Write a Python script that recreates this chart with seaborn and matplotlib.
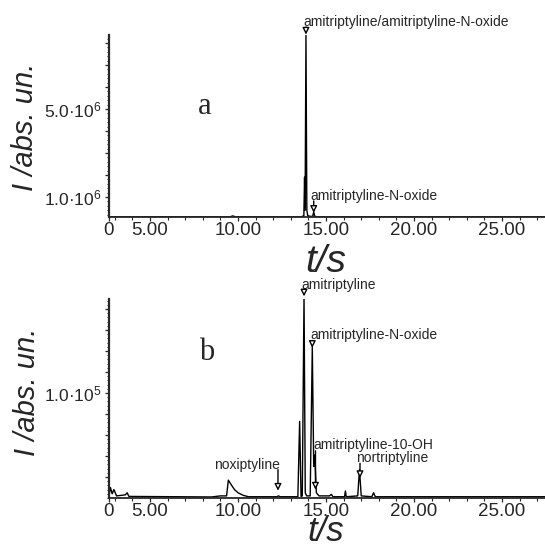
import matplotlib
matplotlib.use("Agg")
import matplotlib.pyplot as plt
from matplotlib.ticker import FixedLocator, FixedFormatter, MultipleLocator
import numpy as np
import pandas as pd
import seaborn as sns

# ---------------- data ----------------
# panel a: chromatogram polyline (t in s, intensity in abs. units)
t_a = [2.67, 4.0, 9.55, 9.70, 9.85, 13.60, 13.74, 13.78, 13.81, 13.86, 13.91, 13.96,
       14.10, 14.24, 14.30, 14.36, 14.50, 27.44]
I_a = [0.10e6, 0.10e6, 0.10e6, 0.14e6, 0.10e6, 0.10e6, 0.15e6, 1.90e6, 0.40e6, 8.35e6, 0.40e6, 0.15e6,
       0.12e6, 0.12e6, 0.32e6, 0.12e6, 0.10e6, 0.10e6]

# panel b
t_b = [2.67, 2.75, 2.85, 2.95, 3.10, 3.60, 3.70, 3.80, 8.50, 9.00, 9.35, 9.45, 9.60, 9.80, 10.00,
       10.30, 10.60, 12.20, 12.30, 12.40, 13.40, 13.50, 13.58, 13.65, 13.75, 13.82, 13.90,
       14.10, 14.22, 14.30, 14.36, 14.45, 14.60, 15.20, 15.30, 15.40, 16.05, 16.10, 16.15,
       16.80, 16.90, 17.00, 17.60, 17.70, 17.80, 27.44]
I_b = [0.020e5, 0.100e5, 0.040e5, 0.080e5, 0.020e5, 0.030e5, 0.050e5, 0.015e5, 0.010e5, 0.020e5,
       0.020e5, 0.170e5, 0.130e5, 0.080e5, 0.050e5, 0.025e5, 0.012e5, 0.012e5, 0.020e5, 0.012e5,
       0.012e5, 0.730e5, 0.015e5, 0.020e5, 1.930e5, 0.050e5, 0.020e5, 0.020e5, 1.440e5, 0.300e5,
       0.410e5, 0.050e5, 0.020e5, 0.020e5, 0.035e5, 0.012e5, 0.012e5, 0.067e5, 0.012e5, 0.020e5,
       0.270e5, 0.020e5, 0.012e5, 0.050e5, 0.012e5, 0.012e5]

# x tick values / labels
x_ticks = [2.67, 5, 10, 15, 20, 25]
x_labels = ["0", "5.00", "10.00", "15.00", "20.00", "25.00"]

# y ticks
ya_ticks = [1e6, 2e6, 3e6, 4e6, 5e6, 6e6, 7e6, 8e6]
ya_labels = ["1.0·10$^{6}$", "", "", "", "5.0·10$^{6}$", "", "", ""]
yb_ticks = [2e4, 4e4, 6e4, 8e4, 1e5, 1.2e5, 1.4e5, 1.6e5, 1.8e5]
yb_labels = ["", "", "", "", "1.0·10$^{5}$", "", "", "", ""]

# annotations: label, text left t, text y, arrow t, arrow tail y, arrow tip y
ann_a_labels = ["amitriptyline/amitriptyline-N-oxide", "amitriptyline-N-oxide"]
ann_a_text_t = [13.69, 14.09]
ann_a_text_y = [8.95e6, 1.05e6]
ann_a_arrow_t = [13.86, 14.30]
ann_a_tail_y = [8.72e6, 0.82e6]
ann_a_tip_y = [8.38e6, 0.28e6]

ann_b_labels = ["amitriptyline", "amitriptyline-N-oxide", "amitriptyline-10-OH",
                "nortriptyline", "noxiptyline"]
ann_b_text_t = [13.58, 14.09, 14.26, 16.70, 8.64]
ann_b_text_y = [2.03e5, 1.55e5, 0.50e5, 0.38e5, 0.31e5]
ann_b_arrow_t = [13.75, 14.22, 14.40, 16.93, 12.27]
ann_b_tail_y = [1.99e5, 1.50e5, 0.45e5, 0.33e5, 0.27e5]
ann_b_tip_y = [1.92e5, 1.43e5, 0.08e5, 0.19e5, 0.07e5]

# ---------------- style ----------------
sns.set_style("ticks")
plt.rcParams["font.family"] = ["Liberation Sans", "DejaVu Sans"]
plt.rcParams["mathtext.fontset"] = "custom"
plt.rcParams["mathtext.rm"] = "Liberation Sans"
plt.rcParams["mathtext.it"] = "Liberation Sans:italic"

fig = plt.figure(figsize=(5.45, 5.45), dpi=100)
W = H = 545.0
ax_a = fig.add_axes([109 / W, 1 - 217 / H, (545 - 109) / W, (217 - 35) / H])
ax_b = fig.add_axes([109 / W, 1 - 498 / H, (545 - 109) / W, (498 - 299) / H])

df_a = pd.DataFrame({"t": t_a, "I": I_a})
df_b = pd.DataFrame({"t": t_b, "I": I_b})
sns.lineplot(data=df_a, x="t", y="I", ax=ax_a, color="black", lw=1.0,
             sort=False, estimator=None)
sns.lineplot(data=df_b, x="t", y="I", ax=ax_b, color="black", lw=1.0,
             sort=False, estimator=None)


def style_axis(ax, yticks, ylabels, ylim, yminor):
    ax.set_xlim(2.67, 27.44)
    ax.set_ylim(*ylim)
    for s in ["top", "right"]:
        ax.spines[s].set_visible(False)
    ax.spines["left"].set_linewidth(1.6)
    ax.spines["bottom"].set_linewidth(1.3)
    ax.xaxis.set_major_locator(FixedLocator(x_ticks))
    ax.xaxis.set_major_formatter(FixedFormatter(x_labels))
    ax.xaxis.set_minor_locator(MultipleLocator(1))
    ax.yaxis.set_major_locator(FixedLocator(yticks))
    ax.yaxis.set_major_formatter(FixedFormatter(ylabels))
    ax.yaxis.set_minor_locator(MultipleLocator(yminor))
    ax.tick_params(axis="x", which="major", direction="out", length=3, width=0.9,
                   labelsize=13.5, pad=0.5)
    ax.tick_params(axis="x", which="minor", direction="out", length=2.5, width=0.8)
    ax.tick_params(axis="y", which="major", direction="out", length=3, width=0.9,
                   labelsize=12.5, pad=2)
    ax.tick_params(axis="y", which="minor", direction="out", length=1.6, width=0.7)
    ax.set_xlabel("")
    ax.set_ylabel("")


style_axis(ax_a, ya_ticks, ya_labels, (0.09e6, 8.36e6), 2e5)
style_axis(ax_b, yb_ticks, yb_labels, (0, 1.895e5), 4e3)

# y labels
fig.text(25 / W, 1 - 127 / H, "I /abs. un.", fontsize=21, fontstyle="italic",
         rotation=90, ha="center", va="center")
fig.text(27 / W, 1 - 392 / H, "I /abs. un.", fontsize=21, fontstyle="italic",
         rotation=90, ha="center", va="center")

# panel letters
fig.text(205 / W, 1 - 106 / H, "a", fontsize=22, family="Liberation Serif",
         ha="center", va="center")
fig.text(207 / W, 1 - 353 / H, "b", fontsize=22, family="Liberation Serif",
         ha="center", va="center")

# x labels "t/s"
fig.text(326 / W, 1 - 272 / H, "t/s", fontsize=28, fontstyle="italic",
         ha="center", va="baseline")
fig.text(326 / W, 1 - 541 / H, "t/s", fontsize=25, fontstyle="italic",
         ha="center", va="baseline")


def annotate(ax, labels, tt, ty, at, tail, tip):
    for lab, x0, y0, xa, y1, y2 in zip(labels, tt, ty, at, tail, tip):
        ax.text(x0, y0, lab, fontsize=10, ha="left", va="center", clip_on=False)
        ax.annotate("", xy=(xa, y2), xytext=(xa, y1), annotation_clip=False,
                    arrowprops=dict(arrowstyle="-|>,head_length=0.4,head_width=0.2",
                                    color="black", lw=1.0, fc="white",
                                    shrinkA=0, shrinkB=0))


annotate(ax_a, ann_a_labels, ann_a_text_t, ann_a_text_y, ann_a_arrow_t, ann_a_tail_y, ann_a_tip_y)
annotate(ax_b, ann_b_labels, ann_b_text_t, ann_b_text_y, ann_b_arrow_t, ann_b_tail_y, ann_b_tip_y)

fig.savefig("out.png", dpi=100)
